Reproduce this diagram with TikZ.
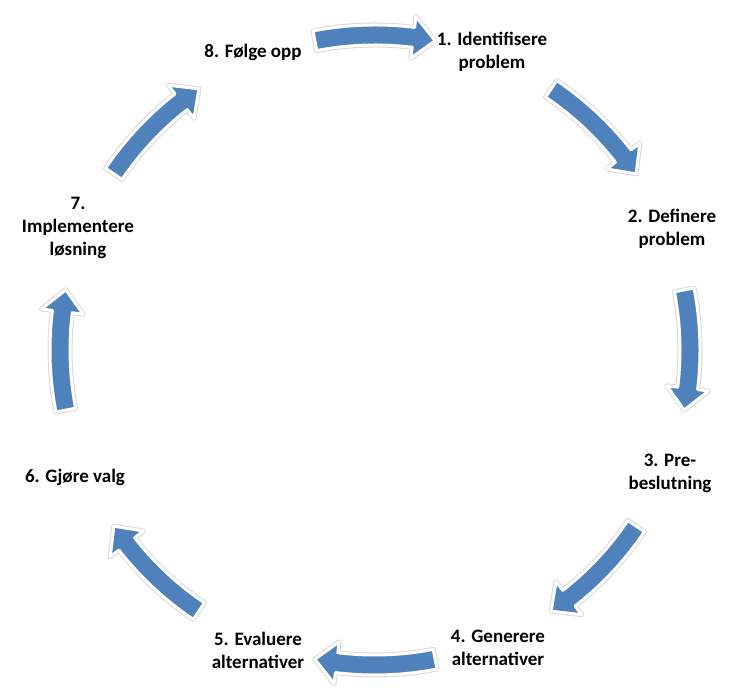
\documentclass[tikz,border=0pt]{standalone}
\usepackage{fontspec}
\setmainfont{Carlito}
\definecolor{arrowblue}{HTML}{4F81BD}
\tikzset{
  cyclearrow/.style={fill=arrowblue, draw=white, line width=3pt, line join=round,
    preaction={draw=black!15, line width=5pt, line join=round}},
  steplabel/.style={align=center, font=\fontsize{19}{23}\selectfont\bfseries, inner sep=0pt}
}
\begin{document}
\begin{tikzpicture}[x=1pt,y=1pt]
\useasboundingbox (0,0) rectangle (750,698);
\coordinate (C) at (375,348);
\foreach \t in {90,45,0,-45,-90,-135,180,135}{
  \pgfmathsetmacro\aa{\t+11}
  \pgfmathsetmacro\ab{\t-7}
  \pgfmathsetmacro\ac{\t-11}
  \draw[cyclearrow] ([shift={(C)}]\aa:325pt) arc[start angle=\aa, end angle=\ab, radius=325pt]
    -- ([shift={(C)}]\ab:336pt) -- ([shift={(C)}]\ac:315pt) -- ([shift={(C)}]\ab:294pt)
    -- ([shift={(C)}]\ab:305pt) arc[start angle=\ab, end angle=\aa, radius=305pt] -- cycle;
}
\node[steplabel] (s1) at (492,646) {1. Identifisere\\problem};
\node[steplabel] (s2) at (672,469) {2. Definere\\problem};
\node[steplabel] (s3) at (670,225) {3. Pre-\\beslutning};
\node[steplabel] (s4) at (498,50) {4. Generere\\alternativer};
\node[steplabel] (s5) at (258,48) {5. Evaluere\\alternativer};
\node[steplabel] (s6) at (75,221) {6. Gjøre valg};
\node[steplabel] (s7) at (78,470) {7.\\Implementere\\løsning};
\node[steplabel] (s8) at (253,646) {8. Følge opp};
\end{tikzpicture}
\end{document}
